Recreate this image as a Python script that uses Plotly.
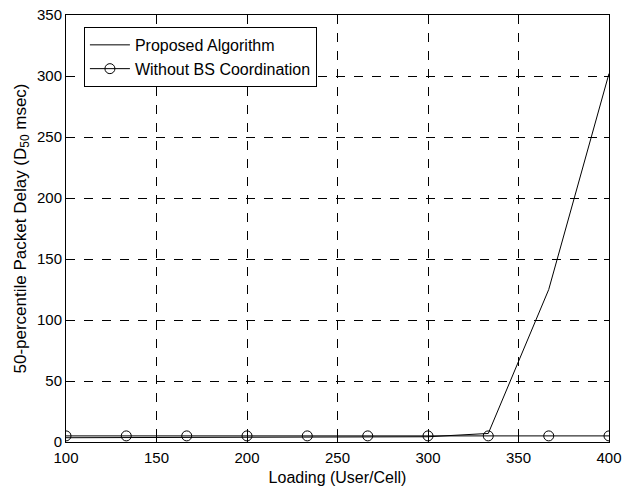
import plotly.graph_objects as go

loading = [100, 133.3, 166.7, 200, 233.3, 266.7, 300, 333.3, 366.7, 400]
proposed = [3.5, 3.6, 3.7, 3.8, 3.9, 4.0, 4.3, 7.0, 125, 302]
without_bs = [5, 5, 5, 5, 5, 5, 5, 5, 5, 5]

fig = go.Figure()
fig.add_trace(go.Scatter(x=loading, y=proposed, mode="lines", name="Proposed Algorithm",
                         line=dict(color="black", width=1)))
fig.add_trace(go.Scatter(x=loading, y=without_bs, mode="lines+markers", name="Without BS Coordination",
                         line=dict(color="black", width=1),
                         marker=dict(symbol="circle-open", size=10, color="black", line=dict(width=1))))

axis_common = dict(showline=True, linecolor="black", linewidth=1, mirror="allticks",
                   ticks="inside", ticklen=5, tickcolor="black",
                   showgrid=True, gridcolor="black", griddash="dash", gridwidth=1,
                   zeroline=False, automargin=False,
                   tickfont=dict(size=15, color="black"))

fig.update_layout(
    width=624, height=489,
    margin=dict(l=66, r=15, t=15, b=47),
    paper_bgcolor="white", plot_bgcolor="white",
    font=dict(family="Liberation Sans, Arial, sans-serif", size=15, color="black"),
    xaxis=dict(range=[100, 400], tickvals=[100, 150, 200, 250, 300, 350, 400],
               ticklabelstandoff=2,
               title=dict(text="Loading (User/Cell)", standoff=6, font=dict(size=16)), **axis_common),
    yaxis=dict(range=[0, 350], tickvals=[0, 50, 100, 150, 200, 250, 300, 350],
               ticklabelstandoff=0,
               title=dict(text="50-percentile Packet Delay (D<sub>50</sub> msec)", standoff=6, font=dict(size=17)),
               **axis_common),
    legend=dict(x=0.033, y=0.972, xanchor="left", yanchor="top",
                bgcolor="white", bordercolor="black", borderwidth=1,
                font=dict(size=16), tracegroupgap=0, itemwidth=40),
    showlegend=True,
)

fig.write_html("out.html")
